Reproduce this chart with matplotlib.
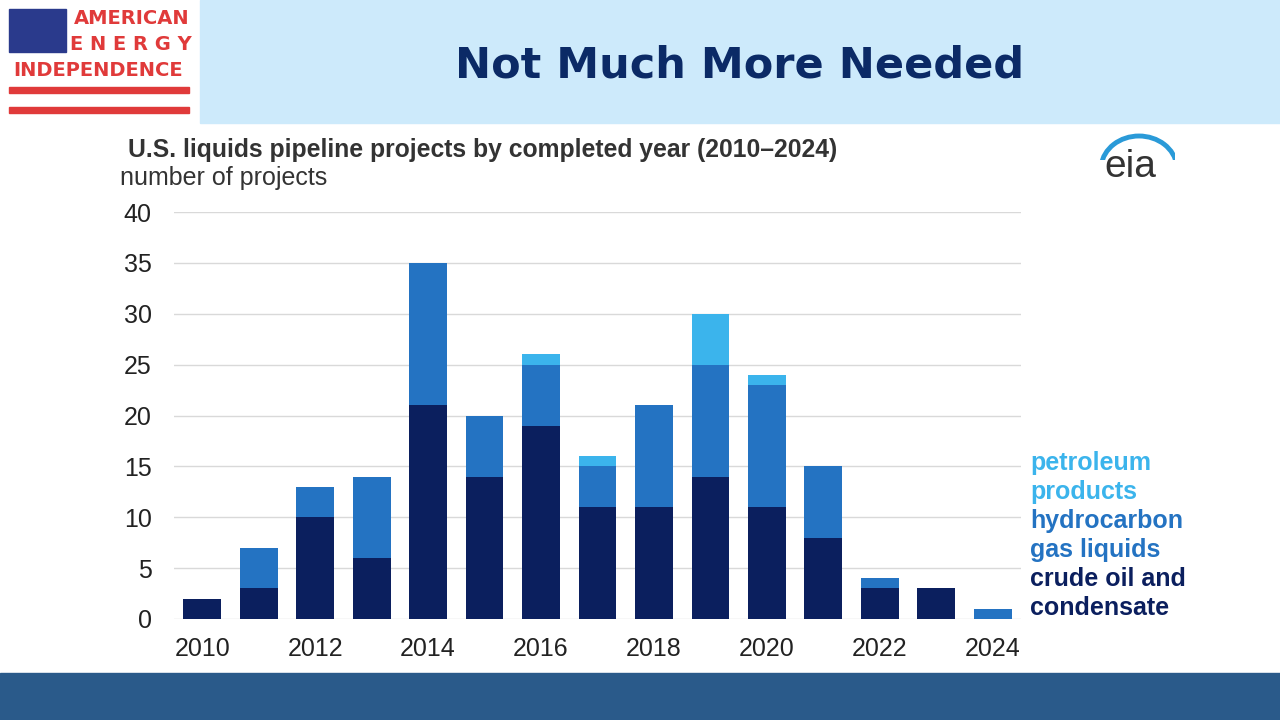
import numpy as np
import matplotlib.pyplot as plt
from matplotlib.patches import Rectangle, Arc

years = np.arange(2010, 2025)
crude = np.array([2, 3, 10, 6, 21, 14, 19, 11, 11, 14, 11, 8, 3, 3, 0])
hgl = np.array([0, 4, 3, 8, 14, 6, 6, 4, 10, 11, 12, 7, 1, 0, 1])
petroleum = np.array([0, 0, 0, 0, 0, 0, 1, 1, 0, 5, 1, 0, 0, 0, 0])
yticks = [0, 5, 10, 15, 20, 25, 30, 35, 40]
xticks = [2010, 2012, 2014, 2016, 2018, 2020, 2022, 2024]

c_crude = '#0b1f5e'
c_hgl = '#2473c2'
c_pet = '#3bb4ec'
arial = 'Liberation Sans'

fig = plt.figure(figsize=(12.8, 7.2), dpi=100)
fig.patch.set_facecolor('white')

# header band and footer band
fig.patches.append(Rectangle((200/1280, 1-123/720), 1080/1280, 123/720,
                             transform=fig.transFigure, color='#cdeafb', zorder=0))
fig.patches.append(Rectangle((0, 0), 1, 47/720, transform=fig.transFigure,
                             color='#2a5a8a', zorder=0))
fig.text(740/1280, 1-65/720, 'Not Much More Needed', ha='center', va='center',
         fontsize=31, fontweight='bold', color='#0b2a66')

# logo
fig.patches.append(Rectangle((9/1280, 1-52/720), 57/1280, 43/720,
                             transform=fig.transFigure, color='#2a3a8c'))
for yy in [88, 108]:
    fig.patches.append(Rectangle((9/1280, 1-(yy+5)/720), 180/1280, 6/720,
                                 transform=fig.transFigure, color='#e03a3a'))
fig.text(132/1280, 1-19/720, 'AMERICAN', ha='center', va='center', fontsize=14,
         fontweight='bold', color='#e03a3a')
fig.text(131/1280, 1-45/720, 'E N E R G Y', ha='center', va='center', fontsize=14,
         fontweight='bold', color='#e03a3a')
fig.text(98/1280, 1-70/720, 'INDEPENDENCE', ha='center', va='center', fontsize=14,
         fontweight='bold', color='#e03a3a')

ax = fig.add_axes([174/1280, 1-619/720, 847/1280, 407/720])
ax.bar(years, crude, width=0.67, color=c_crude, zorder=3)
ax.bar(years, hgl, width=0.67, bottom=crude, color=c_hgl, zorder=3)
ax.bar(years, petroleum, width=0.67, bottom=crude + hgl, color=c_pet, zorder=3)
ax.set_xlim(2009.5, 2024.5)
ax.set_ylim(0, 40)
ax.set_yticks(yticks)
ax.set_xticks(xticks)
ax.tick_params(length=0, labelsize=18, colors='#222222')
ax.tick_params(axis='y', pad=16)
ax.tick_params(axis='x', pad=13)
for lab in ax.get_xticklabels() + ax.get_yticklabels():
    lab.set_family(arial)
ax.grid(axis='y', color='#d9d9d9', lw=1, zorder=0)
for s in ax.spines.values():
    s.set_visible(False)

fig.text(128/1280, 1-150/720, 'U.S. liquids pipeline projects by completed year (2010\u20132024)',
         fontsize=17.8, fontweight='bold', color='#333333', va='center', family=arial)
fig.text(120/1280, 1-178/720, 'number of projects', fontsize=18, color='#333333',
         va='center', family=arial)
fig.text(1130/1280, 1-167/720, 'eia', fontsize=28, color='#333333', ha='center',
         va='center', family=arial)
ax2 = fig.add_axes([1095/1280, 1-160/720, 80/1280, 30/720])
ax2.add_patch(Arc((0.55, -0.3), 0.95, 2.2, theta1=15, theta2=165, color='#2a9ad8', lw=3.5))
ax2.set_xlim(0, 1); ax2.set_ylim(0, 1); ax2.axis('off')

legend = [('petroleum', 463, c_pet), ('products', 492, c_pet),
          ('hydrocarbon', 521, c_hgl), ('gas liquids', 550, c_hgl),
          ('crude oil and', 579, c_crude), ('condensate', 608, c_crude)]
for txt, yy, col in legend:
    fig.text(1030/1280, 1-yy/720, txt, fontsize=18, fontweight='bold', color=col,
             va='center', family=arial)

fig.savefig('out.png', dpi=100)
